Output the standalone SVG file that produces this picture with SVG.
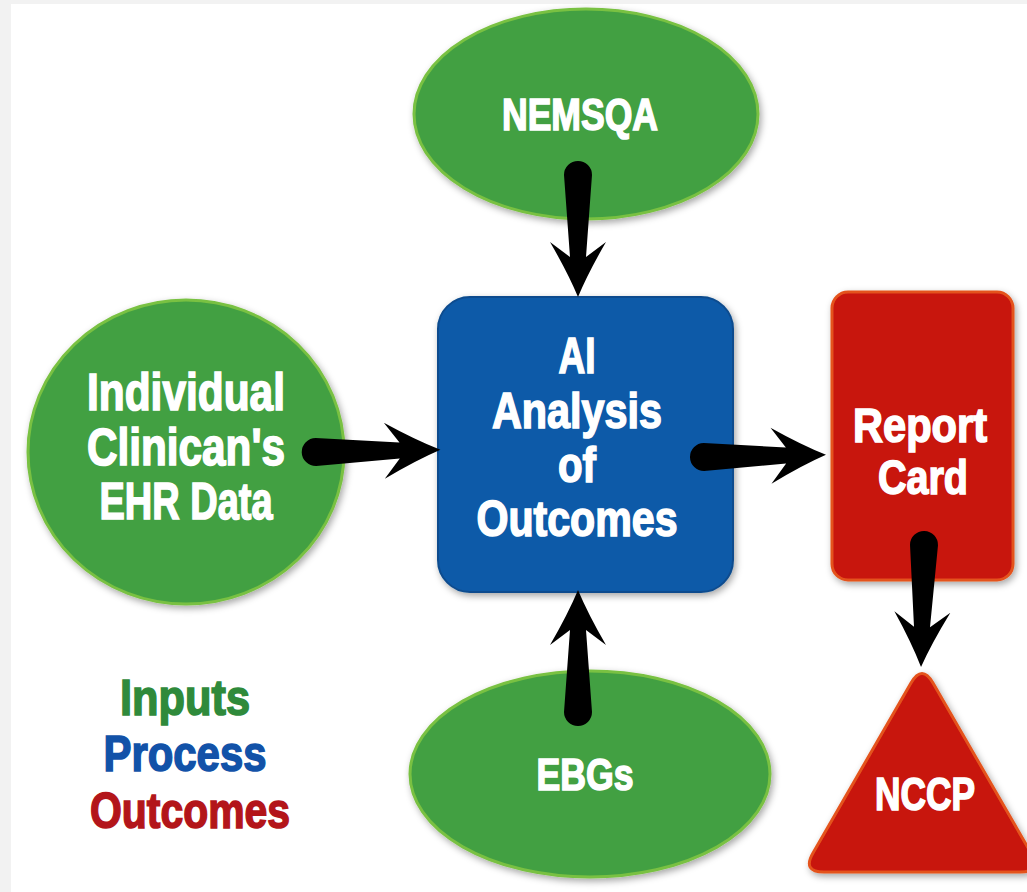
<svg xmlns="http://www.w3.org/2000/svg" width="1027" height="892" viewBox="0 0 1027 892">
  <style>
    .lbl { fill: #ffffff; stroke: #ffffff; stroke-width: 1.6; font-family: "Liberation Sans Narrow", "Liberation Sans", Arial, sans-serif; font-weight: bold; text-anchor: middle; }
    .green { fill: #43a043; stroke: #79c142; stroke-width: 3; }
    .blue { fill: #0b5aa8; stroke: #0a4c8e; stroke-width: 2; }
    .red { fill: #c8130d; stroke: #e4531c; stroke-width: 3; }
    .leg { font-family: "Liberation Sans Narrow", "Liberation Sans", Arial, sans-serif; font-weight: bold; text-anchor: middle; stroke-width: 1.6; }
    .arrow { fill: #000000; }
  </style>
  <defs>
    <filter id="shadow" x="-15%" y="-15%" width="130%" height="130%">
      <feDropShadow dx="2" dy="3" stdDeviation="3.5" flood-color="#000000" flood-opacity="0.35"/>
    </filter>
    <path id="arrow" class="arrow" d="M0,-14 L82,-8 L67,-28 Q98,-10 122,0 Q98,10 67,28 L82,8 L0,14 A14,14 0 0 1 0,-14 Z"/>
  </defs>

  <rect x="0" y="0" width="1027" height="892" fill="#f2f2f2"/>
  <rect x="11" y="4" width="1016" height="888" fill="#ffffff"/>

  <g id="nemsqa">
    <ellipse class="green" cx="586" cy="114" rx="172" ry="105" filter="url(#shadow)"/>
    <text class="lbl" x="580" y="130" font-size="45" textLength="156" lengthAdjust="spacingAndGlyphs">NEMSQA</text>
  </g>

  <g id="ehr">
    <ellipse class="green" cx="186" cy="452" rx="158" ry="152" filter="url(#shadow)"/>
    <text class="lbl" x="186" y="410" font-size="51" textLength="198" lengthAdjust="spacingAndGlyphs">Individual</text>
    <text class="lbl" x="186" y="465" font-size="51" textLength="198" lengthAdjust="spacingAndGlyphs">Clinican's</text>
    <text class="lbl" x="186" y="519" font-size="51" textLength="173" lengthAdjust="spacingAndGlyphs">EHR Data</text>
  </g>

  <g id="ai">
    <rect class="blue" x="438" y="297" width="295" height="295" rx="32" filter="url(#shadow)"/>
    <text class="lbl" x="577" y="373" font-size="50" textLength="37" lengthAdjust="spacingAndGlyphs">AI</text>
    <text class="lbl" x="577" y="428" font-size="50" textLength="170" lengthAdjust="spacingAndGlyphs">Analysis</text>
    <text class="lbl" x="577" y="482" font-size="50" textLength="38" lengthAdjust="spacingAndGlyphs">of</text>
    <text class="lbl" x="577" y="536" font-size="50" textLength="201" lengthAdjust="spacingAndGlyphs">Outcomes</text>
  </g>

  <g id="reportcard">
    <rect class="red" x="832" y="292" width="181" height="288" rx="16" filter="url(#shadow)"/>
    <text class="lbl" x="920" y="442" font-size="48" textLength="134" lengthAdjust="spacingAndGlyphs">Report</text>
    <text class="lbl" x="923" y="494" font-size="48" textLength="90" lengthAdjust="spacingAndGlyphs">Card</text>
  </g>

  <g id="nccp">
    <path class="red" d="M911,683 Q922,664 933,683 L1031,853 Q1042,872 1020,872 L824,872 Q802,872 813,853 Z" filter="url(#shadow)"/>
    <text class="lbl" x="925" y="810" font-size="46" textLength="100" lengthAdjust="spacingAndGlyphs">NCCP</text>
  </g>

  <g id="ebgs">
    <ellipse class="green" cx="590" cy="774" rx="180" ry="103" filter="url(#shadow)"/>
    <text class="lbl" x="585" y="790" font-size="45" textLength="97" lengthAdjust="spacingAndGlyphs">EBGs</text>
  </g>

  <g id="legend">
    <text class="leg" x="185" y="715" font-size="50" fill="#2f8a3b" stroke="#2f8a3b" textLength="130" lengthAdjust="spacingAndGlyphs">Inputs</text>
    <text class="leg" x="185" y="771" font-size="50" fill="#1252a8" stroke="#1252a8" textLength="163" lengthAdjust="spacingAndGlyphs">Process</text>
    <text class="leg" x="190" y="828" font-size="50" fill="#b3151a" stroke="#b3151a" textLength="200" lengthAdjust="spacingAndGlyphs">Outcomes</text>
  </g>

  <g id="connectors">
    <use href="#arrow" transform="translate(578,175) rotate(90)"/>
    <use href="#arrow" transform="translate(316,452) rotate(-1) scale(1.02,1)"/>
    <use href="#arrow" transform="translate(704,457) rotate(-1)"/>
    <use href="#arrow" transform="translate(578,712) rotate(-90)"/>
    <use href="#arrow" transform="translate(924,545) rotate(91.4)"/>
  </g>
</svg>
